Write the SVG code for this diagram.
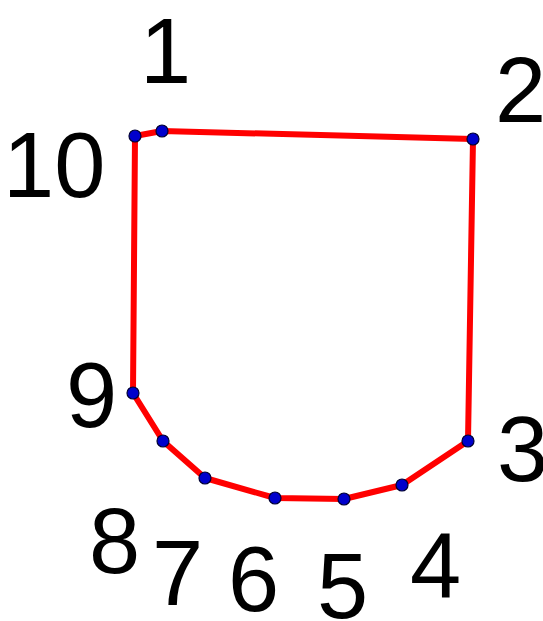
<svg xmlns="http://www.w3.org/2000/svg" width="543" height="621" viewBox="0 0 543 621">
<style>
.lbl{font-family:"Liberation Sans",Arial,sans-serif;font-size:92px;fill:#000}
.pt{fill:#0000cc;stroke:#000033;stroke-width:1.2}
.edge{fill:none;stroke:#ff0000;stroke-width:6;stroke-linejoin:round}
</style>
<rect width="543" height="621" fill="#fff"/>
<g id="connectors">
<polygon class="edge" points="162,131 473,139 468,441 402,485 344,499 275,498 205,478 163,441 133,393 135,136"/>
</g>
<g id="n1"><circle class="pt" cx="162" cy="131" r="6"/><text class="lbl" x="140" y="83">1</text></g>
<g id="n2"><circle class="pt" cx="473" cy="139" r="6"/><text class="lbl" x="495" y="122">2</text></g>
<g id="n3"><circle class="pt" cx="468" cy="441" r="6"/><text class="lbl" x="497" y="481">3</text></g>
<g id="n4"><circle class="pt" cx="402" cy="485" r="6"/><text class="lbl" x="410" y="597">4</text></g>
<g id="n5"><circle class="pt" cx="344" cy="499" r="6"/><text class="lbl" x="317" y="618">5</text></g>
<g id="n6"><circle class="pt" cx="275" cy="498" r="6"/><text class="lbl" x="228" y="611">6</text></g>
<g id="n7"><circle class="pt" cx="205" cy="478" r="6"/><text class="lbl" x="152" y="605">7</text></g>
<g id="n8"><circle class="pt" cx="163" cy="441" r="6"/><text class="lbl" x="89" y="573">8</text></g>
<g id="n9"><circle class="pt" cx="133" cy="393" r="6"/><text class="lbl" x="66" y="427">9</text></g>
<g id="n10"><circle class="pt" cx="135" cy="136" r="6"/><text class="lbl" x="3" y="197">10</text></g>
</svg>
